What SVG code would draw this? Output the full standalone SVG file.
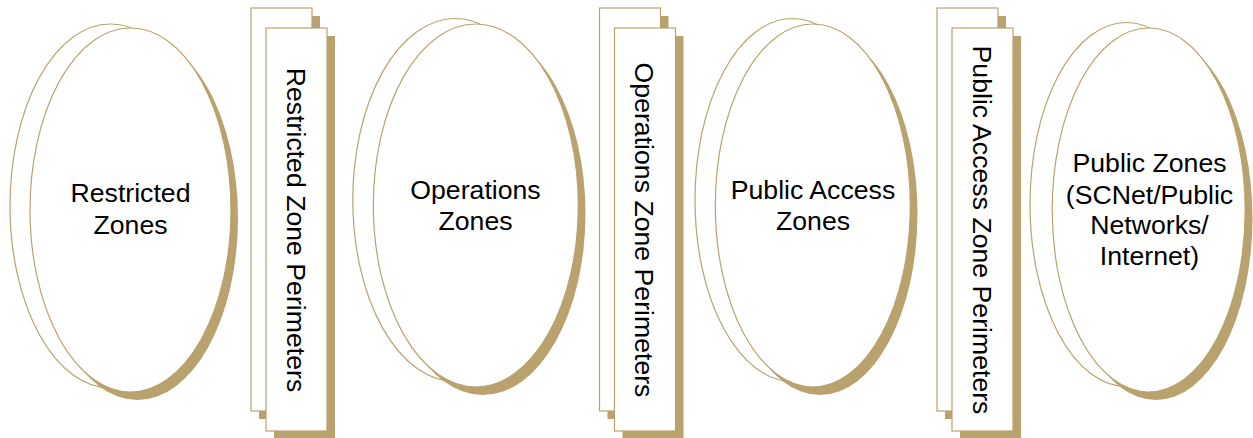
<svg xmlns="http://www.w3.org/2000/svg" width="1253" height="438" viewBox="0 0 1253 438">
  <style>
    .edge { fill: #ffffff; stroke: #B9A26E; stroke-width: 1.2; }
    .shadow { fill: #B9A26E; stroke: none; }
    .label { font-family: "Liberation Sans", Arial, sans-serif; font-size: 26.67px; fill: #000000; text-anchor: middle; }
  </style>
  <defs>
    <!-- stacked perimeter card: back sheet, front sheet, each with a drop shadow -->
    <g id="card">
      <rect class="shadow" x="8" y="8" width="61" height="403"/>
      <rect class="edge" x="0" y="0" width="61" height="403"/>
      <rect class="shadow" x="23" y="28" width="61" height="403"/>
      <rect class="edge" x="15" y="20" width="61" height="403"/>
    </g>
  </defs>

  <!-- Restricted zones -->
  <g id="restricted-zones">
    <ellipse class="edge" cx="110.5" cy="206" rx="100.5" ry="182"/>
    <ellipse class="shadow" cx="137.5" cy="218" rx="100.5" ry="182"/>
    <ellipse class="edge" cx="130.5" cy="210" rx="100.5" ry="182"/>
    <text class="label" x="130.5" y="202">Restricted</text>
    <text class="label" x="130.5" y="233.5">Zones</text>
  </g>

  <g id="restricted-perimeters">
    <use href="#card" x="251" y="8"/>
    <text class="label" transform="translate(296.5,230) rotate(90)" y="9.5">Restricted Zone Perimeters</text>
  </g>

  <!-- Operations zones -->
  <g id="operations-zones">
    <ellipse class="edge" cx="455.3" cy="200" rx="102.5" ry="181.5"/>
    <ellipse class="shadow" cx="483" cy="213.5" rx="102.5" ry="181.5"/>
    <ellipse class="edge" cx="475.8" cy="205.5" rx="102.5" ry="181.5"/>
    <text class="label" x="475.5" y="198.5">Operations</text>
    <text class="label" x="475.5" y="230">Zones</text>
  </g>

  <g id="operations-perimeters">
    <use href="#card" x="599.5" y="8"/>
    <text class="label" transform="translate(644.5,230) rotate(90)" y="9.5">Operations Zone Perimeters</text>
  </g>

  <!-- Public access zones -->
  <g id="public-access-zones">
    <ellipse class="edge" cx="792.5" cy="200" rx="97.5" ry="181.5"/>
    <ellipse class="shadow" cx="820" cy="213.5" rx="97.5" ry="181.5"/>
    <ellipse class="edge" cx="812.8" cy="205.5" rx="97.5" ry="181.5"/>
    <text class="label" x="813" y="198.5">Public Access</text>
    <text class="label" x="813" y="230">Zones</text>
  </g>

  <g id="public-access-perimeters">
    <use href="#card" x="937" y="8"/>
    <text class="label" transform="translate(982.5,230) rotate(90)" y="9.5">Public Access Zone Perimeters</text>
  </g>

  <!-- Public zones -->
  <g id="public-zones">
    <ellipse class="edge" cx="1126.5" cy="204.5" rx="96.5" ry="182"/>
    <ellipse class="shadow" cx="1156" cy="218" rx="96.5" ry="182"/>
    <ellipse class="edge" cx="1148.7" cy="210" rx="96.5" ry="182"/>
    <text class="label" x="1149.5" y="172">Public Zones</text>
    <text class="label" x="1149.5" y="203.5">(SCNet/Public</text>
    <text class="label" x="1149.5" y="234">Networks/</text>
    <text class="label" x="1149.5" y="265">Internet)</text>
  </g>

  <!-- no connectors in this figure -->
  <g id="connectors"/>
</svg>
